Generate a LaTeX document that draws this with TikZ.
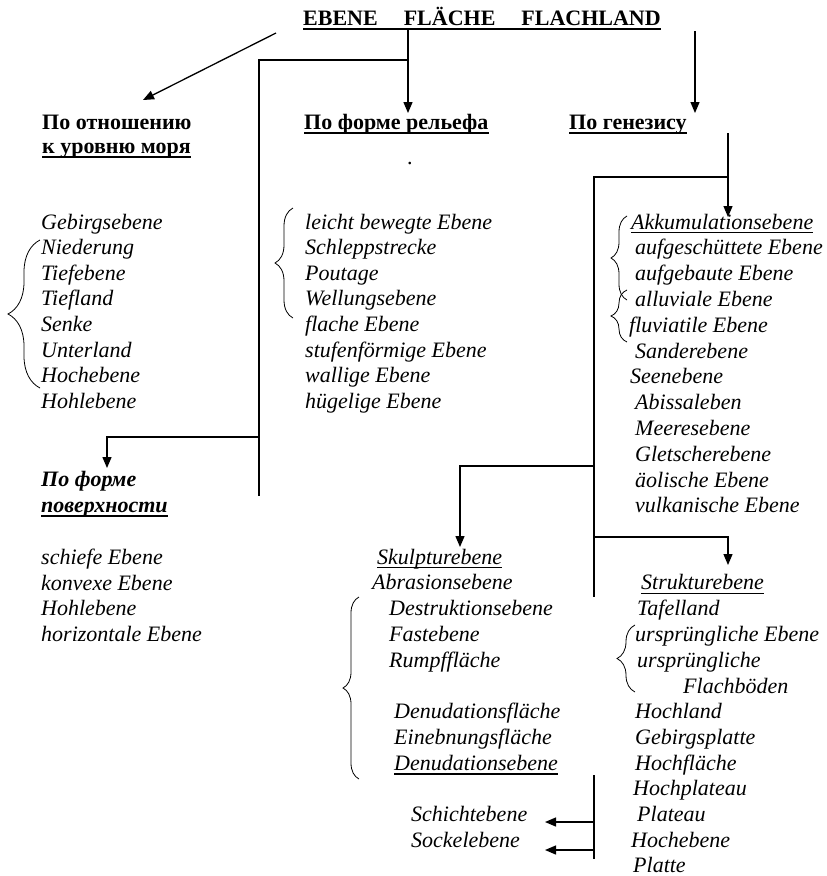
\documentclass[tikz,border=0pt]{standalone}
\usepackage{fontspec}
\setmainfont{Liberation Serif}
\usetikzlibrary{arrows.meta,decorations.pathreplacing}
\begin{document}
\begin{tikzpicture}[x=1pt,y=-1pt,
  txt/.style={anchor=base west,inner sep=0pt,font=\fontsize{22}{26}\selectfont\itshape},
  hd/.style={anchor=base west,inner sep=0pt,font=\fontsize{22}{26}\selectfont\bfseries},
  hdi/.style={anchor=base west,inner sep=0pt,font=\fontsize{22}{26}\selectfont\bfseries\itshape},
  conn/.style={line width=1.3pt},
  arr/.style={conn,-{Triangle[length=11pt,width=9pt]}},
  ul/.style={line width=1.2pt},
  ulb/.style={line width=2.5pt},
  brc/.style={decorate,decoration={brace,amplitude=#1},line width=0.8pt}
]
\fill[white] (0,0) rectangle (827,876);
\useasboundingbox (0,0) rectangle (827,876);

% title and headings
\node[hd] (T) at (303,25) {EBENE\hspace{26pt}FLÄCHE\hspace{26pt}FLACHLAND};
\node[hd] (h1a) at (42,129) {По отношению};
\node[hd] (h1b) at (42,153) {к уровню моря};
\node[hd] (h2) at (304,129) {По форме рельефа};
\node[hd] (h3) at (569,129) {По генезису};
\node[txt,font=\fontsize{22}{26}\selectfont] (dot) at (407,164) {.};
\node[hdi] (h4a) at (41,486) {По форме};
\node[hdi] (h4b) at (41,512) {поверхности};

\foreach \n in {T,h2,h3,h1b,h4b}{
  \draw[ulb] ([yshift=-4pt]\n.base west) -- ([yshift=-4pt]\n.base east);
}

% left column
\node[txt] (l1) at (41,229) {Gebirgsebene};
\node[txt] (l2) at (41,254.6) {Niederung};
\node[txt] (l3) at (41,280.2) {Tiefebene};
\node[txt] (l4) at (41,305.8) {Tiefland};
\node[txt] (l5) at (41,331.4) {Senke};
\node[txt] (l6) at (41,357) {Unterland};
\node[txt] (l7) at (41,382.6) {Hochebene};
\node[txt] (l8) at (41,408.2) {Hohlebene};

% middle column
\node[txt] (m1) at (305,229) {leicht bewegte Ebene};
\node[txt] (m2) at (305,254.6) {Schleppstrecke};
\node[txt] (m3) at (305,280.2) {Poutage};
\node[txt] (m4) at (305,305.8) {Wellungsebene};
\node[txt] (m5) at (305,331.4) {flache Ebene};
\node[txt] (m6) at (305,357) {stufenförmige Ebene};
\node[txt] (m7) at (305,382.6) {wallige Ebene};
\node[txt] (m8) at (305,408.2) {hügelige Ebene};

% Akkumulation column
\node[txt] (r1) at (631,229) {Akkumulationsebene};
\node[txt] (r2) at (635,254.8) {aufgeschüttete Ebene};
\node[txt] (r3) at (635,280.6) {aufgebaute Ebene};
\node[txt] (r4) at (635,306.4) {alluviale Ebene};
\node[txt] (r5) at (629,332.2) {fluviatile Ebene};
\node[txt] (r6) at (635,358) {Sanderebene};
\node[txt] (r7) at (630,383.8) {Seenebene};
\node[txt] (r8) at (635,409.6) {Abissaleben};
\node[txt] (r9) at (635,435.4) {Meeresebene};
\node[txt] (r10) at (635,461.2) {Gletscherebene};
\node[txt] (r11) at (635,487) {äolische Ebene};
\node[txt] (r12) at (635,512.8) {vulkanische Ebene};

% Form der Oberfläche
\node[txt] (f1) at (41,564.5) {schiefe Ebene};
\node[txt] (f2) at (41,590) {konvexe Ebene};
\node[txt] (f3) at (41,615.5) {Hohlebene};
\node[txt] (f4) at (41,641) {horizontale Ebene};

% Skulptur column
\node[txt] (s0) at (377,564) {Skulpturebene};
\node[txt] (s1) at (372,589.8) {Abrasionsebene};
\node[txt] (s2) at (389,615.6) {Destruktionsebene};
\node[txt] (s3) at (389,641.4) {Fastebene};
\node[txt] (s4) at (389,667.2) {Rumpffläche};
\node[txt] (s5) at (394,718.8) {Denudationsfläche};
\node[txt] (s6) at (394,744.6) {Einebnungsfläche};
\node[txt] (s7) at (394,770.4) {Denudationsebene};

% Struktur column
\node[txt] (k0) at (641,589.8) {Strukturebene};
\node[txt] (k1) at (637,615.6) {Tafelland};
\node[txt] (k2) at (635,641.4) {ursprüngliche Ebene};
\node[txt] (k3) at (637,667.2) {ursprüngliche};
\node[txt] (k4) at (683,693) {Flachböden};
\node[txt] (k5) at (635,718.8) {Hochland};
\node[txt] (k6) at (635,744.6) {Gebirgsplatte};
\node[txt] (k7) at (635,770.4) {Hochfläche};
\node[txt] (k8) at (633,795.5) {Hochplateau};
\node[txt] (k9) at (637,821.5) {Plateau};
\node[txt] (k10) at (631,847) {Hochebene};
\node[txt] (k11) at (633,872) {Platte};

\node[txt] (b1) at (411,821.5) {Schichtebene};
\node[txt] (b2) at (411,847.5) {Sockelebene};

\foreach \n in {r1,s0,s7,k0}{
  \draw[ul] ([yshift=-3.5pt]\n.base west) -- ([yshift=-3.5pt]\n.base east);
}

% braces
\draw[brc=32] (40,388) -- (40,240);
\draw[brc=18] (293,318) -- (293,208);
\draw[brc=16] (627,300) -- (627,216);
\draw[brc=16] (627,342) -- (627,290);
\draw[brc=16] (359,779) -- (359,597);
\draw[brc=18] (635,692) -- (635,625);

% connector points
\coordinate (c1s) at (276,33);   \coordinate (c1e) at (143,100);
\coordinate (c2s) at (408,29);   \coordinate (c2e) at (408,113);
\coordinate (c2j) at (408,60);   \coordinate (c2k) at (259,60);
\coordinate (c2b) at (259,496);  \coordinate (c2m) at (259,437);
\coordinate (c2n) at (107,437);  \coordinate (c2f) at (107,468);
\coordinate (c3s) at (695,31);   \coordinate (c3e) at (695,113);
\coordinate (c4s) at (728,133);  \coordinate (c4e) at (728,217);
\coordinate (c4j) at (728,177);  \coordinate (c4k) at (594,177);
\coordinate (c4b) at (594,597);  \coordinate (c4m) at (594,466);
\coordinate (c4n) at (460,466);  \coordinate (c4f) at (460,547);
\coordinate (c4p) at (594,537);  \coordinate (c4q) at (728,537);
\coordinate (c4g) at (728,565);
\coordinate (c5s) at (594,775);  \coordinate (c5b) at (594,859);
\coordinate (c5m) at (594,822);  \coordinate (c5e) at (545,822);
\coordinate (c5n) at (594,850);  \coordinate (c5f) at (545,850);

\draw[arr] (c1s) -- (c1e);
\draw[arr] (c2s) -- (c2e);
\draw[conn] (c2j) -- (c2k) -- (c2b);
\draw[arr] (c2m) -- (c2n) -- (c2f);
\draw[arr] (c3s) -- (c3e);
\draw[arr] (c4s) -- (c4e);
\draw[conn] (c4j) -- (c4k) -- (c4b);
\draw[arr] (c4m) -- (c4n) -- (c4f);
\draw[arr] (c4p) -- (c4q) -- (c4g);
\draw[conn] (c5s) -- (c5b);
\draw[arr] (c5m) -- (c5e);
\draw[arr] (c5n) -- (c5f);
\end{tikzpicture}
\end{document}
